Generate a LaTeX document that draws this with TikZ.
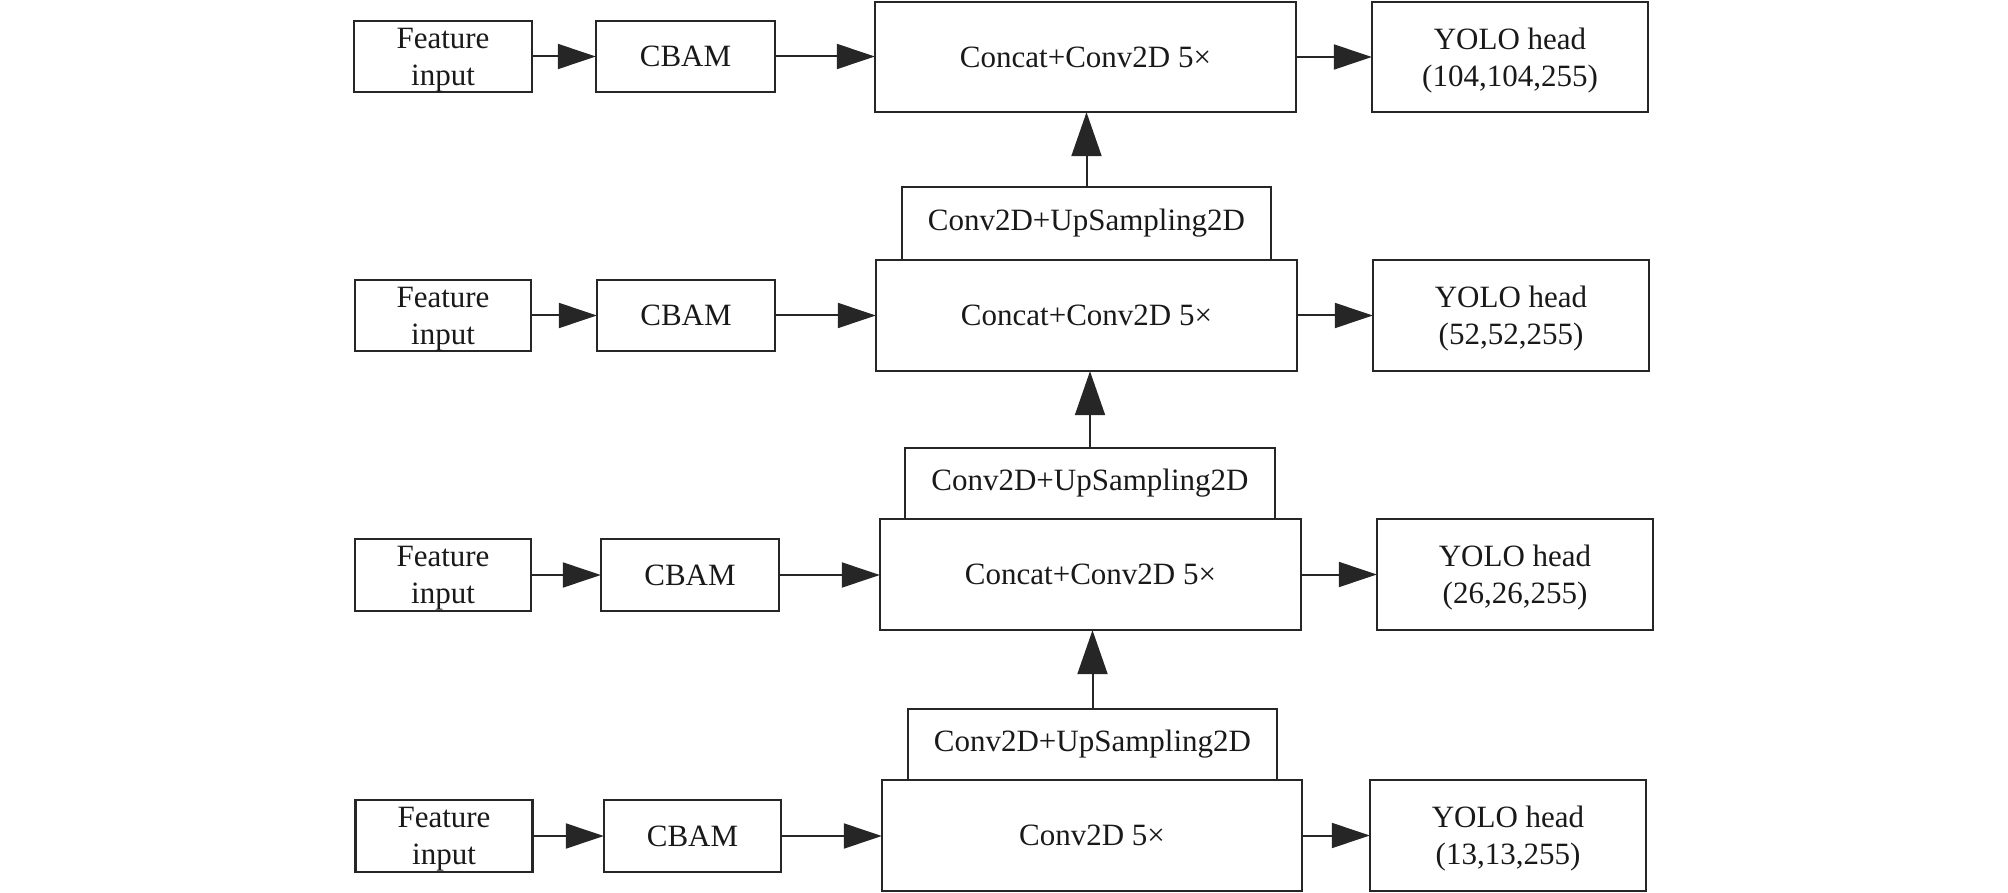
\documentclass[tikz,border=0pt]{standalone}
\usepackage{fontspec}
\setmainfont{Liberation Serif}
\usetikzlibrary{arrows.meta}
\begin{document}
\begin{tikzpicture}[x=1pt,y=-1pt,
  box/.style={draw=black!85, line width=2.4pt, inner sep=0pt, align=center,
    font=\fontsize{31}{37}\selectfont, text=black!90},
  two/.style={text depth=0pt},
  conn/.style={draw=black!85, line width=2pt,
    -{Triangle[length=38pt,width=25pt]}, shorten >=-1pt},
  vconn/.style={draw=black!85, line width=2pt,
    -{Triangle[length=44pt,width=30pt]}, shorten >=-1pt}]
\useasboundingbox (0,0) rectangle (2008,893);
% Row 1
\node[box, two, minimum width=178pt, minimum height=71pt] (f1) at (443,56.5) {Feature\\input};
\node[box, minimum width=179pt, minimum height=71pt] (c1) at (685.5,56.5) {CBAM};
\node[box, minimum width=421pt, minimum height=110pt] (k1) at (1085.5,57) {Concat+Conv2D 5×};
\node[box, two, minimum width=276pt, minimum height=110pt] (y1) at (1510,57) {YOLO head\\(104,104,255)};
% Row 2
\node[box, minimum width=369pt, minimum height=73pt] (u2) at (1086.5,223.5) {Conv2D+UpSampling2D};
\node[box, two, minimum width=176pt, minimum height=71pt] (f2) at (443,315.5) {Feature\\input};
\node[box, minimum width=178pt, minimum height=71pt] (c2) at (686,315.5) {CBAM};
\node[box, minimum width=421pt, minimum height=111pt] (k2) at (1086.5,315.5) {Concat+Conv2D 5×};
\node[box, two, minimum width=276pt, minimum height=111pt] (y2) at (1511,315.5) {YOLO head\\(52,52,255)};
% Row 3
\node[box, minimum width=370pt, minimum height=71pt] (u3) at (1090,483.5) {Conv2D+UpSampling2D};
\node[box, two, minimum width=176pt, minimum height=72pt] (f3) at (443,575) {Feature\\input};
\node[box, minimum width=178pt, minimum height=72pt] (c3) at (690,575) {CBAM};
\node[box, minimum width=421pt, minimum height=111pt] (k3) at (1090.5,574.5) {Concat+Conv2D 5×};
\node[box, two, minimum width=276pt, minimum height=111pt] (y3) at (1515,574.5) {YOLO head\\(26,26,255)};
% Row 4
\node[box, minimum width=369pt, minimum height=71pt] (u4) at (1092.5,744.5) {Conv2D+UpSampling2D};
\node[box, two, minimum width=177pt, minimum height=72pt] (f4) at (444,836) {Feature\\input};
\node[box, minimum width=177pt, minimum height=72pt] (c4) at (692.5,836) {CBAM};
\node[box, minimum width=420pt, minimum height=111pt] (k4) at (1092,835.5) {Conv2D 5×};
\node[box, two, minimum width=276pt, minimum height=111pt] (y4) at (1508,835.5) {YOLO head\\(13,13,255)};
% connectors
\foreach \i in {1,2,3,4}{
  \draw[conn] (f\i.east) -- (c\i.west);
  \draw[conn] (c\i.east) -- (c\i.east -| k\i.west);
  \draw[conn] (k\i.east) -- (k\i.east -| y\i.west);
}
\draw[vconn] (u2.north) -- (u2.north |- k1.south);
\draw[vconn] (u3.north) -- (u3.north |- k2.south);
\draw[vconn] (u4.north) -- (u4.north |- k3.south);
\end{tikzpicture}
\end{document}
